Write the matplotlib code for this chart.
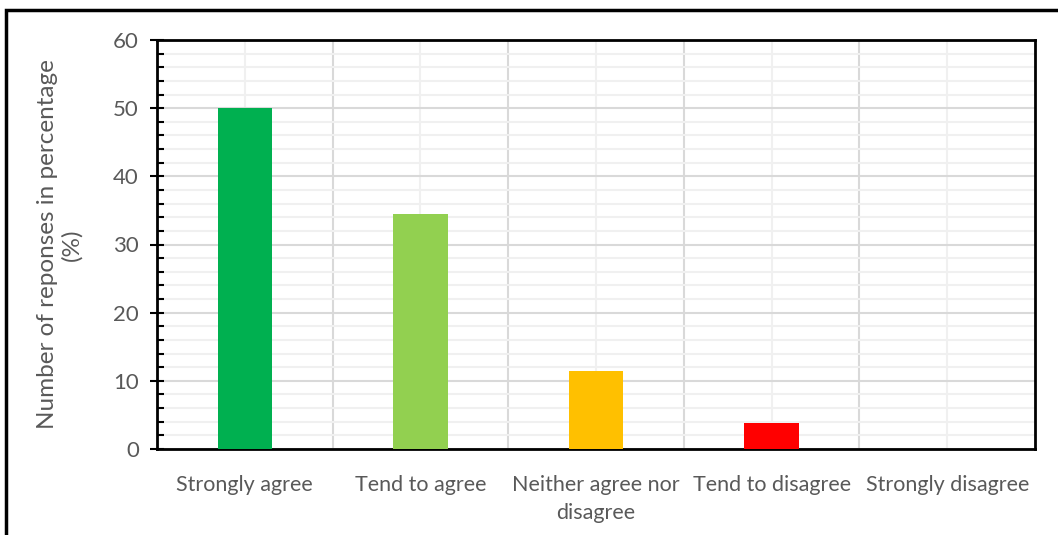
import matplotlib
matplotlib.use("Agg")
import matplotlib.pyplot as plt
from matplotlib.patches import Rectangle
from matplotlib.ticker import MultipleLocator, FixedLocator
import numpy as np

categories = ["Strongly agree", "Tend to agree", "Neither agree nor\ndisagree",
              "Tend to disagree", "Strongly disagree"]
values = [50, 34.5, 11.5, 3.8, 0]
colors = ["#00B050", "#92D050", "#FFC000", "#FF0000", "#7F7F7F"]
ylabel = "Number of reponses in percentage\n(%)"

plt.rcParams['font.family'] = ['Lato', 'DejaVu Sans']
text_color = "#595959"

W, H = 1058, 535
fig = plt.figure(figsize=(W / 100, H / 100), dpi=100)
ax = fig.add_axes([157 / W, 1 - 449 / H, (1035 - 157) / W, (449 - 40) / H])

x = np.arange(len(categories))
ax.bar(x, values, width=0.31, color=colors, zorder=3)

ax.set_xlim(-0.5, len(categories) - 0.5)
ax.set_ylim(0, 60)
ax.yaxis.set_major_locator(MultipleLocator(10))
ax.yaxis.set_minor_locator(MultipleLocator(2))
ax.set_xticks(x)
ax.set_xticklabels(categories, fontsize=15.5, color=text_color, linespacing=1.45)
ax.xaxis.set_minor_locator(FixedLocator(np.arange(len(categories) - 1) + 0.5))

ax.grid(which='major', axis='y', color='#D9D9D9', linewidth=1.5, zorder=0)
ax.grid(which='minor', axis='y', color='#F0F0F0', linewidth=1.5, zorder=0)
ax.grid(which='minor', axis='x', color='#D9D9D9', linewidth=1.5, zorder=0)
ax.grid(which='major', axis='x', color='#F0F0F0', linewidth=1.5, zorder=0)
ax.set_axisbelow(True)

ax.tick_params(axis='y', which='major', direction='inout', length=10, width=1.5,
               labelsize=16, labelcolor=text_color, pad=8)
ax.tick_params(axis='y', which='minor', direction='in', length=5, width=1.5)
ax.tick_params(axis='x', which='both', length=0, pad=19)

for s in ax.spines.values():
    s.set_linewidth(2)
    s.set_color('black')

ax.set_ylabel(ylabel, fontsize=17.5, color=text_color, labelpad=22, linespacing=1.15)

fig.patches.append(Rectangle((6 / W, -0.05), 1.1, 1 - 10 / H + 0.05,
                             transform=fig.transFigure, fill=False,
                             edgecolor='black', linewidth=2.5, clip_on=False))

fig.savefig("out.png", dpi=100)
